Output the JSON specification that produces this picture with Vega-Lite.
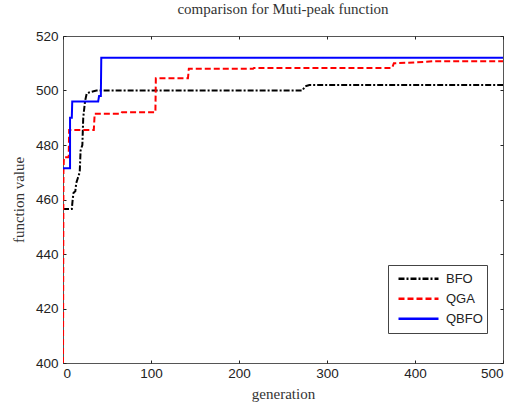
{
  "$schema": "https://vega.github.io/schema/vega-lite/v6.json",
  "width": 440,
  "height": 327,
  "autosize": "none",
  "padding": {"left": 63, "top": 36, "right": 10, "bottom": 43},
  "background": "white",
  "title": {"text": "comparison for Muti-peak function", "font": "Liberation Serif", "fontSize": 15, "fontWeight": "normal", "color": "#333", "offset": 12, "anchor": "middle"},
  "config": {
    "view": {"stroke": "#555", "strokeWidth": 1},
    "axis": {"grid": false, "domain": false, "labelFont": "Liberation Sans", "labelFontSize": 13.5, "labelColor": "#222", "titleFont": "Liberation Serif", "titleFontSize": 15, "titleFontWeight": "normal", "titleColor": "#333", "tickColor": "#222", "tickSize": -3}
  },
  "resolve": {"axis": {"x": "independent", "y": "independent"}},
  "data": {"values": [
    {"gen": 0, "value": 456.5, "alg": "BFO"},
    {"gen": 10, "value": 456.5, "alg": "BFO"},
    {"gen": 11, "value": 460, "alg": "BFO"},
    {"gen": 12, "value": 462.5, "alg": "BFO"},
    {"gen": 14, "value": 463, "alg": "BFO"},
    {"gen": 15, "value": 466, "alg": "BFO"},
    {"gen": 17, "value": 468, "alg": "BFO"},
    {"gen": 19, "value": 470, "alg": "BFO"},
    {"gen": 20, "value": 478, "alg": "BFO"},
    {"gen": 22, "value": 480, "alg": "BFO"},
    {"gen": 23, "value": 490, "alg": "BFO"},
    {"gen": 25, "value": 496, "alg": "BFO"},
    {"gen": 27, "value": 499, "alg": "BFO"},
    {"gen": 32, "value": 499.5, "alg": "BFO"},
    {"gen": 38, "value": 500, "alg": "BFO"},
    {"gen": 272, "value": 500, "alg": "BFO"},
    {"gen": 275, "value": 501.5, "alg": "BFO"},
    {"gen": 280, "value": 502, "alg": "BFO"},
    {"gen": 500, "value": 502, "alg": "BFO"},
    {"gen": 0, "value": 400, "alg": "QGA"},
    {"gen": 0.5, "value": 470, "alg": "QGA"},
    {"gen": 1, "value": 475.5, "alg": "QGA"},
    {"gen": 6.5, "value": 475.5, "alg": "QGA"},
    {"gen": 7, "value": 485.5, "alg": "QGA"},
    {"gen": 35, "value": 485.5, "alg": "QGA"},
    {"gen": 36, "value": 491.5, "alg": "QGA"},
    {"gen": 66, "value": 491.5, "alg": "QGA"},
    {"gen": 67, "value": 492, "alg": "QGA"},
    {"gen": 105, "value": 492, "alg": "QGA"},
    {"gen": 105.5, "value": 504.5, "alg": "QGA"},
    {"gen": 142, "value": 504.5, "alg": "QGA"},
    {"gen": 143, "value": 508, "alg": "QGA"},
    {"gen": 216, "value": 508, "alg": "QGA"},
    {"gen": 217, "value": 508.3, "alg": "QGA"},
    {"gen": 374, "value": 508.3, "alg": "QGA"},
    {"gen": 376, "value": 510, "alg": "QGA"},
    {"gen": 400, "value": 510.3, "alg": "QGA"},
    {"gen": 420, "value": 510.7, "alg": "QGA"},
    {"gen": 500, "value": 510.7, "alg": "QGA"},
    {"gen": 0, "value": 471.5, "alg": "QBFO"},
    {"gen": 8, "value": 471.5, "alg": "QBFO"},
    {"gen": 8, "value": 490, "alg": "QBFO"},
    {"gen": 10, "value": 490, "alg": "QBFO"},
    {"gen": 10.5, "value": 496, "alg": "QBFO"},
    {"gen": 40, "value": 496, "alg": "QBFO"},
    {"gen": 41, "value": 498, "alg": "QBFO"},
    {"gen": 43, "value": 498, "alg": "QBFO"},
    {"gen": 43.5, "value": 512, "alg": "QBFO"},
    {"gen": 500, "value": 512, "alg": "QBFO"}
  ]},
  "layer": [
    {
      "mark": {"type": "line", "strokeWidth": 2, "clip": true},
      "encoding": {
        "x": {"field": "gen", "type": "quantitative", "scale": {"domain": [0, 500], "nice": false}, "axis": {"orient": "bottom", "title": "generation", "values": [0, 100, 200, 300, 400, 500], "labelPadding": 6, "titlePadding": 7}},
        "y": {"field": "value", "type": "quantitative", "scale": {"domain": [400, 520], "nice": false, "zero": false}, "axis": {"orient": "left", "title": "function value", "values": [400, 420, 440, 460, 480, 500, 520], "labelPadding": 8, "titlePadding": 9}},
        "color": {"field": "alg", "type": "nominal", "sort": ["BFO", "QGA", "QBFO"], "scale": {"domain": ["BFO", "QGA", "QBFO"], "range": ["#000000", "#ff0000", "#0000ff"]},
          "legend": {"title": null, "orient": "none", "legendX": 325, "legendY": 229, "symbolType": "stroke", "symbolSize": 1600, "symbolStrokeWidth": 2.5, "symbolOffset": 5, "labelFont": "Liberation Sans", "labelFontSize": 13, "labelColor": "#222", "strokeColor": "#444", "fillColor": "white", "padding": 4, "clipHeight": 19.5, "rowPadding": 0, "labelOffset": 6}},
        "strokeDash": {"field": "alg", "type": "nominal", "sort": ["BFO", "QGA", "QBFO"], "scale": {"domain": ["BFO", "QGA", "QBFO"], "range": [[6, 2, 2, 2], [6, 3], [1, 0]]}, "legend": null}
      }
    },
    {
      "mark": {"type": "rule", "opacity": 0},
      "encoding": {
        "x": {"datum": 0, "type": "quantitative", "axis": {"orient": "top", "labels": false, "title": null, "values": [0, 100, 200, 300, 400, 500]}},
        "y": {"datum": 400, "type": "quantitative", "axis": {"orient": "right", "labels": false, "title": null, "values": [400, 420, 440, 460, 480, 500, 520]}}
      }
    }
  ]
}
